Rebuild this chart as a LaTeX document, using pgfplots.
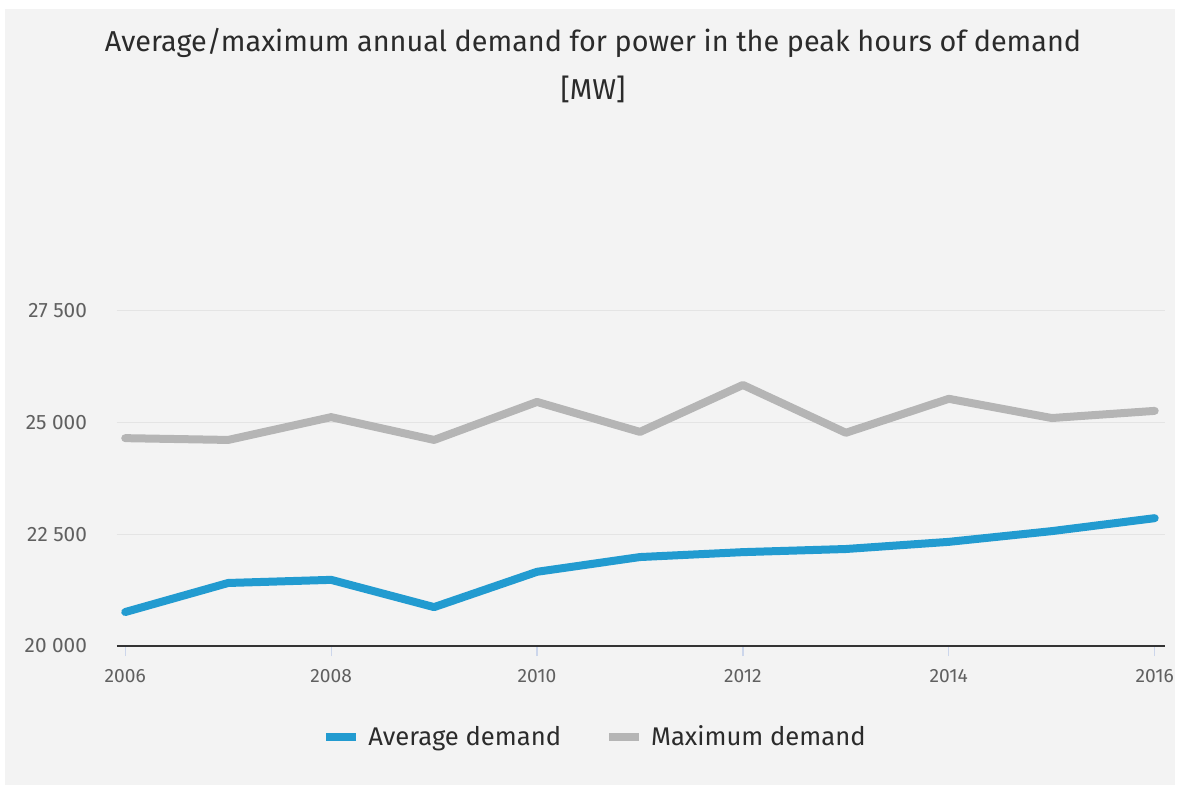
\documentclass[border=0pt]{standalone}
\usepackage{pgfplots}
\pgfplotsset{compat=1.18}
\usepackage{fontspec}
\setmainfont{Fira Sans}
\definecolor{bgc}{HTML}{F3F3F3}
\definecolor{avgc}{HTML}{229BD0}
\definecolor{maxc}{HTML}{B5B5B5}
\definecolor{gridc}{HTML}{E4E4E4}
\definecolor{tickc}{HTML}{CCD6EB}
\definecolor{txtc}{HTML}{2B2B2B}
\definecolor{lblc}{HTML}{606060}
\begin{document}
\begin{tikzpicture}
\useasboundingbox (-58.5pt,-71.5pt) rectangle (533pt,323pt);
\fill[white] (-58.5pt,-71.5pt) rectangle (533pt,323pt);
\fill[bgc] (-56pt,-69.5pt) rectangle (529pt,318.5pt);
\node[text=txtc, font=\fontsize{14.4}{24}\selectfont, align=center] at (238pt,290pt)
  {Average/maximum annual demand for power in the peak hours of demand\\{}[MW]};
\begin{axis}[
  at={(0pt,0pt)}, anchor=origin,
  scale only axis,
  width=524pt, height=223.5pt,
  xmin=2005.92, xmax=2016.1,
  ymin=20000, ymax=30000,
  axis x line*=bottom,
  axis y line*=left,
  x axis line style={draw=none},
  y axis line style={draw=none},
  xtick={2006,2008,...,2016},
  ytick={20000,22500,25000,27500},
  scaled y ticks=false,
  ymajorgrids, grid style={gridc, line width=0.6pt},
  major x tick style={tickc, line width=0.6pt},
  major y tick style={draw=none},
  x tick label style={/pgf/number format/1000 sep={}, text=lblc, font=\fontsize{9.6}{12}\selectfont},
  y tick label style={/pgf/number format/.cd, fixed, 1000 sep={\ }, /tikz/.cd, text=lblc, font=\fontsize{10.4}{12}\selectfont},
  /pgf/number format/assume math mode=true,
  xtick align=outside,
  ytick align=outside,
  major tick length=5pt,
  xticklabel shift=3pt,
  yticklabel shift=6.5pt,
  legend style={at={(0.457,-0.204)}, anchor=center, draw=none, fill=none,
    legend columns=2, text=txtc, font=\fontsize{12.8}{14}\selectfont,
    /tikz/every even column/.append style={column sep=20pt}},
  legend image code/.code={\draw[#1, line cap=butt] (0pt,0pt) -- (15pt,0pt);},
  legend style={/tikz/every odd column/.append style={column sep=2pt}},
]
\addplot[avgc, line width=4pt, line cap=round, line join=round] coordinates {
 (2006,20760) (2007,21410) (2008,21480) (2009,20870) (2010,21660) (2011,21990)
 (2012,22100) (2013,22170) (2014,22330) (2015,22570) (2016,22860)
};
\addlegendentry{Average demand}
\addplot[maxc, line width=4pt, line cap=round, line join=round] coordinates {
 (2006,24650) (2007,24610) (2008,25120) (2009,24610) (2010,25460) (2011,24790)
 (2012,25840) (2013,24770) (2014,25530) (2015,25100) (2016,25260)
};
\addlegendentry{Maximum demand}
\draw[black!80, line width=1pt] (rel axis cs:0,0) -- (rel axis cs:1,0);
\end{axis}
\end{tikzpicture}
\end{document}
